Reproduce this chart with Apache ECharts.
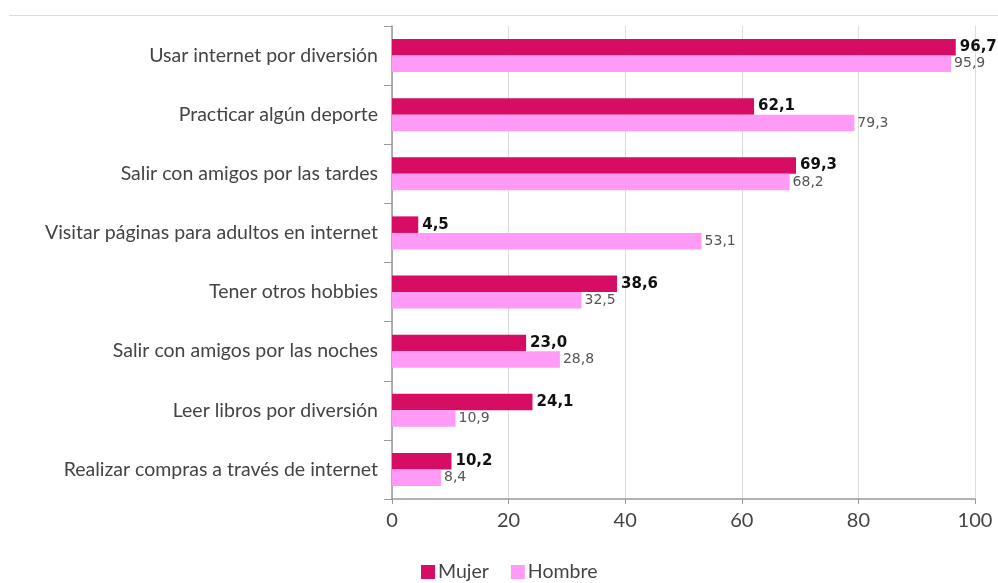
<!DOCTYPE html>
<html>
<head>
<meta charset="utf-8">
<script src="https://cdn.jsdelivr.net/npm/echarts@6/dist/echarts.min.js"></script>
<style>
  html, body { margin: 0; padding: 0; background: #fff; }
  #chart { width: 998px; height: 583px; }
</style>
</head>
<body>
<div id="chart"></div>
<script>
// categorias (de arriba a abajo)
var categorias = [
    'Usar internet por diversión',
    'Practicar algún deporte',
    'Salir con amigos por las tardes',
    'Visitar páginas para adultos en internet',
    'Tener otros hobbies',
    'Salir con amigos por las noches',
    'Leer libros por diversión',
    'Realizar compras a través de internet'
];
var mujer = [96.7, 62.1, 69.3, 4.5, 38.6, 23.0, 24.1, 10.2];
var hombre = [95.9, 79.3, 68.2, 53.1, 32.5, 28.8, 10.9, 8.4];
var ticksX = [0, 20, 40, 60, 80, 100];

var chart = echarts.init(document.getElementById('chart'));

function fmt(p) {
    return p.value.toFixed(1).replace('.', ',');
}

var option = {
    animation: false,
    graphic: [{
        type: 'line',
        shape: { x1: 9, y1: 15.5, x2: 998, y2: 15.5 },
        style: { stroke: '#dddddd', lineWidth: 1 }
    }],
    legend: {
        top: 561,
        left: 421,
        padding: 0,
        itemWidth: 14,
        itemHeight: 14,
        itemGap: 22,
        icon: 'rect',
        textStyle: { fontFamily: 'Lato', fontSize: 19.5, lineHeight: 22, color: '#444', padding: [0, 0, 0, -2] },
        data: ['Mujer', 'Hombre']
    },
    grid: { left: 392, right: 23, top: 26, bottom: 84, containLabel: false },
    xAxis: {
        type: 'value',
        min: ticksX[0],
        max: ticksX[ticksX.length - 1],
        interval: 20,
        axisLine: { show: true, lineStyle: { color: '#999', width: 1.5 } },
        axisTick: { show: true, length: 5, lineStyle: { color: '#999' } },
        splitLine: { lineStyle: { color: '#dcdcdc' } },
        axisLabel: { fontFamily: 'Lato', fontSize: 20, color: '#444', margin: 12 }
    },
    yAxis: {
        type: 'category',
        inverse: true,
        data: categorias,
        axisLine: { lineStyle: { color: '#999', width: 1.5 } },
        axisTick: { show: true, length: 8, lineStyle: { color: '#999' } },
        axisLabel: { fontFamily: 'Lato', fontSize: 19.5, color: '#444', margin: 14 }
    },
    series: [
        {
            name: 'Mujer',
            type: 'bar',
            data: mujer,
            barGap: '0%',
            barCategoryGap: '44%',
            itemStyle: { color: '#D60D62' },
            label: {
                show: true,
                position: 'right',
                distance: 4,
                formatter: fmt,
                fontFamily: 'DejaVu Sans',
                fontWeight: 'bold',
                fontSize: 15,
                color: '#111'
            }
        },
        {
            name: 'Hombre',
            type: 'bar',
            data: hombre,
            itemStyle: { color: '#FF9BF7' },
            label: {
                show: true,
                position: 'right',
                distance: 3,
                formatter: fmt,
                fontFamily: 'DejaVu Sans',
                fontSize: 14,
                color: '#555'
            }
        }
    ]
};

chart.setOption(option);
</script>
</body>
</html>
